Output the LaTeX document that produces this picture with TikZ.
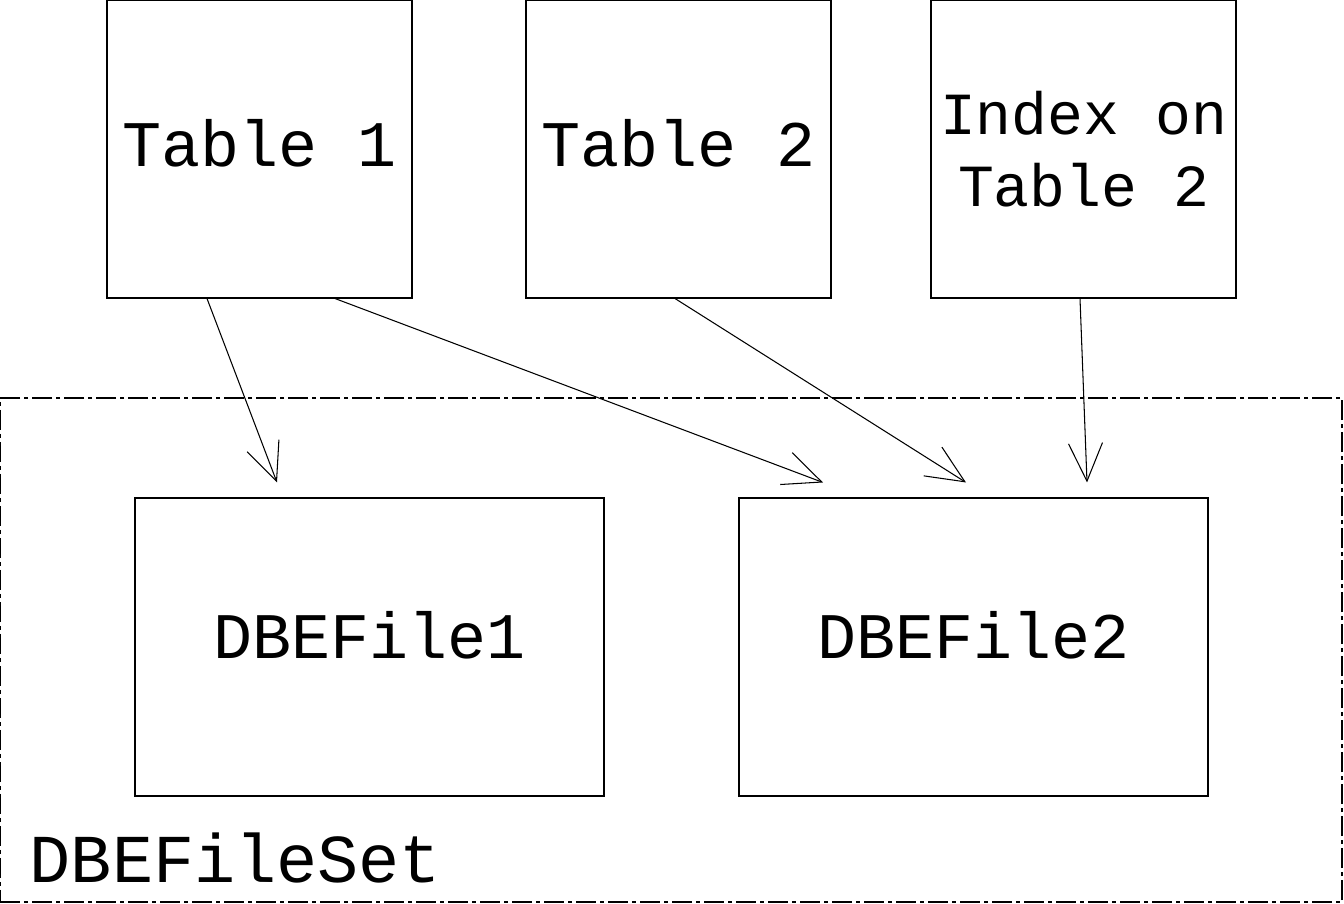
\documentclass[tikz,border=0pt]{standalone}
\usepackage{fontspec}
\setmonofont{Liberation Mono}
\usepackage{tikz}
\usetikzlibrary{arrows.meta}
\usetikzlibrary{positioning}
\tikzset{
  tabela/.style={draw, line width=0.6pt, minimum width=6.1cm, minimum height=5.96cm, align=center, inner sep=0pt, font=\ttfamily\fontsize{37}{41}\selectfont},
  arquivo/.style={draw, line width=0.6pt, minimum width=9.38cm, minimum height=5.96cm, align=center, inner sep=0pt, text depth=0.48cm, font=\ttfamily\fontsize{37}{41}\selectfont},
  conjunto/.style={draw, line width=0.6pt, dash pattern=on 0.4cm off 0.08cm on 0.08cm off 0.08cm, minimum width=26.84cm, minimum height=10.08cm, inner sep=0pt},
  seta/.style={-{Straight Barb[length=0.76cm, width=0.68cm, line width=0.6pt]}, line width=0.6pt},
}

\begin{document}
\begin{tikzpicture}
  \useasboundingbox (0,0) rectangle (26.88,-18.08);
  \node[conjunto] (set) at (13.42,-13.0) {};
  \node[anchor=base west, inner sep=0pt, font=\ttfamily\fontsize{39}{41}\selectfont]
    (setlabel) at ([xshift=0.6cm, yshift=0.4cm]set.south west) {DBEFileSet};
  \node[tabela, text depth=0.24cm] (t1) at (5.19,-2.98) {Table 1};
  \node[tabela, text depth=0.24cm] (t2) at (13.57,-2.98) {Table 2};
  \node[tabela, font=\ttfamily\fontsize{34}{41}\selectfont] (ix) at (21.67,-2.98) {Index on\\Table 2};
  \node[arquivo] (f1) at (7.39,-12.94) {DBEFile1};
  \node[arquivo] (f2) at (19.47,-12.94) {DBEFile2};
  \draw[seta] ([xshift=-1.05cm]t1.south) -- ([xshift=-1.85cm, yshift=0.3cm]f1.north);
  \draw[seta] ([xshift=1.51cm]t1.south) -- ([xshift=-3.01cm, yshift=0.3cm]f2.north);
  \draw[seta] ([xshift=-0.07cm]t2.south) -- ([xshift=-0.15cm, yshift=0.3cm]f2.north);
  \draw[seta] ([xshift=-0.07cm]ix.south) -- ([xshift=2.27cm, yshift=0.3cm]f2.north);
\end{tikzpicture}
\end{document}
